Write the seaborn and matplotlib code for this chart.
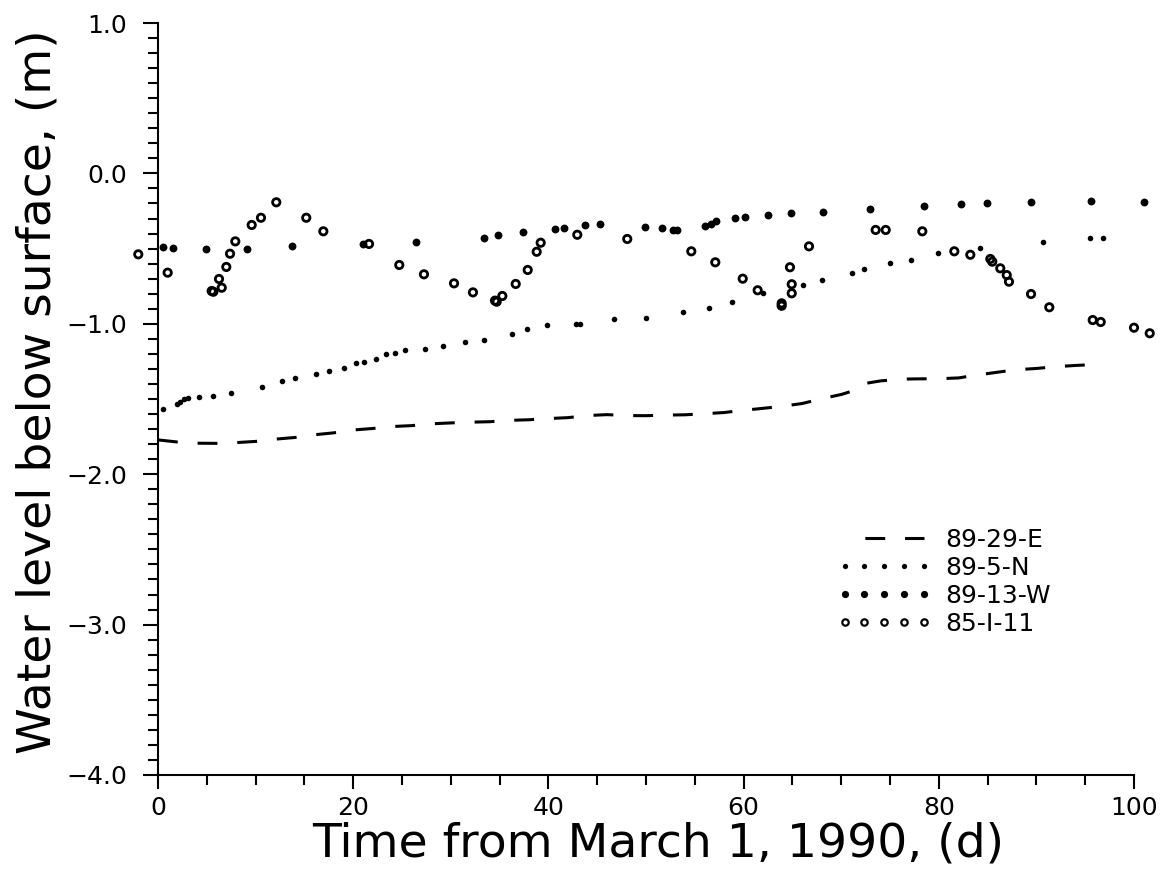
import numpy as np
import pandas as pd
import matplotlib
matplotlib.use("Agg")
import matplotlib.pyplot as plt
from matplotlib.lines import Line2D
from matplotlib.ticker import MultipleLocator, FuncFormatter
import seaborn as sns

# Well 89-29-E (continuous record, dashed line)
e29_day = [0, 2, 4, 6, 8, 10, 12, 14, 16, 18, 20, 22, 24, 26, 28, 30, 32, 34, 36, 38,
           40, 42, 44, 46, 48, 50, 52, 54, 56, 58, 60, 62, 64, 66, 68, 70, 71, 72, 72.6,
           74, 76, 78, 80, 82, 84, 86, 88, 90, 92, 94, 96.8]
e29_level = [-1.772, -1.786, -1.794, -1.795, -1.790, -1.782, -1.767, -1.756, -1.738, -1.725,
             -1.706, -1.696, -1.683, -1.677, -1.665, -1.659, -1.654, -1.651, -1.642, -1.638,
             -1.630, -1.624, -1.610, -1.604, -1.610, -1.611, -1.607, -1.605, -1.598, -1.590,
             -1.575, -1.562, -1.548, -1.530, -1.498, -1.470, -1.450, -1.420, -1.395,
             -1.380, -1.368, -1.366, -1.365, -1.360, -1.340, -1.322, -1.305, -1.297, -1.285,
             -1.277, -1.268]

# Well 89-5-N
n5_day = [0.54, 1.98, 2.25, 2.66, 3.10, 4.23, 5.64, 7.45, 10.62, 12.67, 14.04, 16.16, 17.52,
          19.09, 20.32, 21.14, 22.37, 23.39, 24.31, 25.34, 27.39, 29.17, 31.45, 33.43, 36.24,
          37.78, 39.89, 42.83, 43.24, 46.72, 50.03, 53.82, 56.45, 58.81, 62.02, 66.12, 68.00,
          71.08, 72.34, 74.97, 77.12, 79.95, 84.25, 90.68, 95.46, 96.79]
n5_level = [-1.568, -1.533, -1.518, -1.502, -1.495, -1.489, -1.480, -1.460, -1.422, -1.380,
            -1.362, -1.334, -1.312, -1.292, -1.261, -1.252, -1.232, -1.201, -1.194, -1.176,
            -1.168, -1.146, -1.123, -1.106, -1.068, -1.037, -1.006, -1.001, -1.001, -0.970,
            -0.961, -0.924, -0.897, -0.855, -0.793, -0.742, -0.709, -0.660, -0.636, -0.598,
            -0.578, -0.529, -0.494, -0.454, -0.428, -0.428]

# Well 89-13-W
w13_day = [0.54, 1.57, 4.89, 9.15, 13.73, 21.03, 26.43, 33.40, 34.80, 37.43, 40.68, 41.60,
           43.75, 45.29, 49.90, 51.61, 52.80, 53.15, 56.05, 56.63, 57.17, 59.12, 60.14, 62.47,
           64.86, 68.10, 72.95, 78.48, 82.27, 84.94, 89.42, 95.56, 101.05]
w13_level = [-0.487, -0.498, -0.501, -0.501, -0.483, -0.471, -0.458, -0.430, -0.412, -0.392,
             -0.372, -0.363, -0.345, -0.334, -0.354, -0.363, -0.374, -0.374, -0.352, -0.336,
             -0.318, -0.299, -0.290, -0.279, -0.261, -0.255, -0.235, -0.215, -0.205, -0.199,
             -0.188, -0.184, -0.192]

# Well 85-I-11
i11_day = [-2.02, 0.99, 5.50, 5.67, 6.53, 6.25, 7.00, 7.38, 7.92, 9.60, 10.55, 12.12, 15.19,
           16.94, 21.62, 24.72, 27.25, 30.33, 32.27, 34.53, 34.70, 35.28, 36.65, 37.88, 38.80,
           39.21, 42.96, 48.08, 54.64, 57.10, 59.91, 61.44, 63.90, 63.90, 64.75, 64.93, 64.93,
           66.70, 73.53, 74.56, 78.31, 81.59, 83.23, 85.28, 85.48, 86.30, 86.96, 87.19, 89.45,
           91.32, 95.77, 96.59, 100.0, 101.61]
i11_level = [-0.538, -0.660, -0.782, -0.787, -0.760, -0.702, -0.622, -0.534, -0.452, -0.343,
             -0.295, -0.192, -0.295, -0.385, -0.469, -0.609, -0.671, -0.731, -0.791, -0.846,
             -0.853, -0.815, -0.735, -0.642, -0.521, -0.461, -0.408, -0.436, -0.518, -0.591,
             -0.700, -0.777, -0.864, -0.880, -0.624, -0.737, -0.797, -0.485, -0.376, -0.376,
             -0.385, -0.518, -0.541, -0.569, -0.587, -0.631, -0.676, -0.720, -0.802, -0.890,
             -0.975, -0.988, -1.026, -1.063]

well_names = ["89-29-E", "89-5-N", "89-13-W", "85-I-11"]

sns.set_theme(style="ticks")
plt.rcParams["font.family"] = ["DejaVu Sans"]
plt.rcParams["text.color"] = "black"
plt.rcParams["axes.labelcolor"] = "black"
plt.rcParams["xtick.color"] = "black"
plt.rcParams["ytick.color"] = "black"

fig = plt.figure(figsize=(11.74, 8.77), dpi=100)
ax = fig.add_axes([158 / 1174, 1 - 775 / 877, (1134 - 158) / 1174, (775 - 23) / 877])

dash_lw = 2.2
dash_pat = (6.5, 6.5)

e29 = pd.DataFrame({"day": e29_day, "level": e29_level})
sns.lineplot(data=e29, x="day", y="level", ax=ax, color="black", lw=dash_lw,
             sort=False, estimator=None, linestyle=(0, dash_pat))

n5 = pd.DataFrame({"day": n5_day, "level": n5_level})
sns.scatterplot(data=n5, x="day", y="level", ax=ax, color="black", s=16,
                marker="o", linewidth=0, clip_on=False)

w13 = pd.DataFrame({"day": w13_day, "level": w13_level})
sns.scatterplot(data=w13, x="day", y="level", ax=ax, color="black", s=32,
                marker="o", linewidth=0, clip_on=False)

i11 = pd.DataFrame({"day": i11_day, "level": i11_level})
sns.scatterplot(data=i11, x="day", y="level", ax=ax, facecolor="none",
                edgecolor="black", s=28, marker="o", linewidth=2.0, clip_on=False)

ax.set_xlim(0, 100)
ax.set_ylim(-4.0, 1.0)
ax.xaxis.set_major_locator(MultipleLocator(20))
ax.xaxis.set_minor_locator(MultipleLocator(5))
ax.yaxis.set_major_locator(MultipleLocator(1.0))
ax.yaxis.set_minor_locator(MultipleLocator(0.1))


def level_fmt(v, pos):
    s = f"{v:.1f}"
    if s == "-0.0":
        s = "0.0"
    return s.replace("-", "\u2212")


ax.yaxis.set_major_formatter(FuncFormatter(level_fmt))

sns.despine(ax=ax)
for side in ("left", "bottom"):
    ax.spines[side].set_linewidth(1.5)
    ax.spines[side].set_color("black")

ax.tick_params(axis="y", which="major", direction="out", length=11, width=1.5,
               pad=11, labelsize=18, colors="black")
ax.tick_params(axis="y", which="minor", direction="out", length=7, width=1.5)
ax.tick_params(axis="x", which="major", direction="out", length=10, width=1.5,
               pad=5, labelsize=18, colors="black")
ax.tick_params(axis="x", which="minor", direction="out", length=7, width=1.5)

ax.set_xlabel("Time from March 1, 1990, (d)", fontsize=34, color="black")
ax.set_ylabel("Water level below surface, (m)", fontsize=34, color="black")
ax.xaxis.set_label_coords(0.512, -0.062)
ax.yaxis.set_label_coords(-0.100, 0.51)

handles = [
    Line2D([], [], color="black", lw=dash_lw, linestyle=(6.5, dash_pat)),
    Line2D([], [], color="black", ls="none", marker="o", markersize=3.8, markeredgewidth=0),
    Line2D([], [], color="black", ls="none", marker="o", markersize=5.2, markeredgewidth=0),
    Line2D([], [], color="black", ls="none", marker="o", markersize=4.6,
           markerfacecolor="none", markeredgewidth=1.6),
]
fs_leg = 18
ax.legend(handles, well_names, loc="upper left",
          bbox_to_anchor=(837 / 1174, 1 - 528 / 877), bbox_transform=fig.transFigure,
          frameon=False, numpoints=5, handlelength=94 / (fs_leg * 100 / 72),
          handletextpad=0.58, labelspacing=0.16, borderpad=0, borderaxespad=0,
          fontsize=fs_leg, labelcolor="black")

fig.savefig("out.png", dpi=100)
